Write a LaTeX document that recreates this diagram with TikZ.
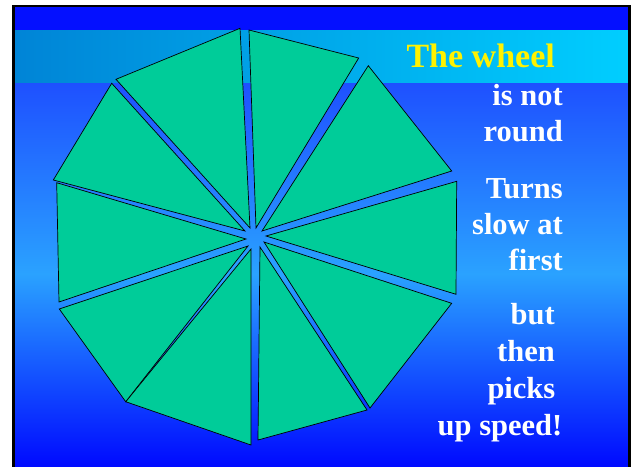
\documentclass[tikz,border=0pt]{standalone}
\usepackage{fontspec}
\setmainfont{Liberation Serif}
\definecolor{wgreen}{RGB}{0,204,153}
\definecolor{topband}{RGB}{4,16,255}
\definecolor{cyanL}{RGB}{0,132,214}
\definecolor{cyanR}{RGB}{0,206,255}
\definecolor{bgtop}{RGB}{30,80,255}
\definecolor{bgmid}{RGB}{42,162,255}
\definecolor{bgbot}{RGB}{0,10,255}
\begin{document}
\begin{tikzpicture}[x=1pt,y=-1pt,
  sector/.style={fill=wgreen, draw=black, line width=0.7pt, line join=miter},
  yellowtxt/.style={text=yellow, font=\fontsize{34}{34}\selectfont\bfseries, inner sep=0pt, anchor=base east},
  whitetxt/.style={text=white, font=\fontsize{30.5}{30.5}\selectfont\bfseries, inner sep=0pt, anchor=base east}]
\useasboundingbox (0,0) rectangle (634,466);
\fill[white] (0,0) rectangle (634,466);
% background bands
\shade[top color=bgtop, bottom color=bgbot, middle color=bgmid] (13,82) rectangle (630,466);
\shade[left color=cyanL, right color=cyanR] (13,30) rectangle (630,82);
\fill[topband] (13,6) rectangle (630,30);
% border
\begin{scope}
\clip (0,0) rectangle (634,466);
\draw[black, line width=2.6pt] (13.5,6) rectangle (629.5,480);
\end{scope}
% wheel sectors
\filldraw[sector] (256,228) -- (249,30) -- (358.7,58) -- cycle;
\filldraw[sector] (262,231) -- (368.3,65.7) -- (451.7,171) -- cycle;
\filldraw[sector] (266,236) -- (456.7,181.3) -- (456,294.3) -- cycle;
\filldraw[sector] (264,242) -- (451.7,303.3) -- (370,408) -- cycle;
\filldraw[sector] (260,247) -- (367,410) -- (258,440) -- cycle;
\filldraw[sector] (251,249) -- (251,445) -- (125.7,401.7) -- cycle;
\filldraw[sector] (248,246) -- (125.7,401.7) -- (59.3,309) -- cycle;
\filldraw[sector] (246,239) -- (59,302) -- (56.7,182.7) -- cycle;
\filldraw[sector] (245,231) -- (53.3,180) -- (111.7,83.3) -- cycle;
\filldraw[sector] (250,228) -- (116,79.3) -- (240,28.3) -- cycle;
% texts
\node[yellowtxt] (title) at (555,67.3) {The wheel};
\node[whitetxt] (l1) at (563,105) {is not};
\node[whitetxt] (l2) at (563,141.7) {round};
\node[whitetxt] (l3) at (563,198.3) {Turns};
\node[whitetxt] (l4) at (563,234.5) {slow at};
\node[whitetxt] (l5) at (563,270.7) {first};
\node[whitetxt] (l6) at (555,324.3) {but};
\node[whitetxt] (l7) at (555,361) {then};
\node[whitetxt] (l8) at (555.5,398.3) {picks};
\node[whitetxt] (l9) at (562.5,435) {up speed!};
\end{tikzpicture}
\end{document}
